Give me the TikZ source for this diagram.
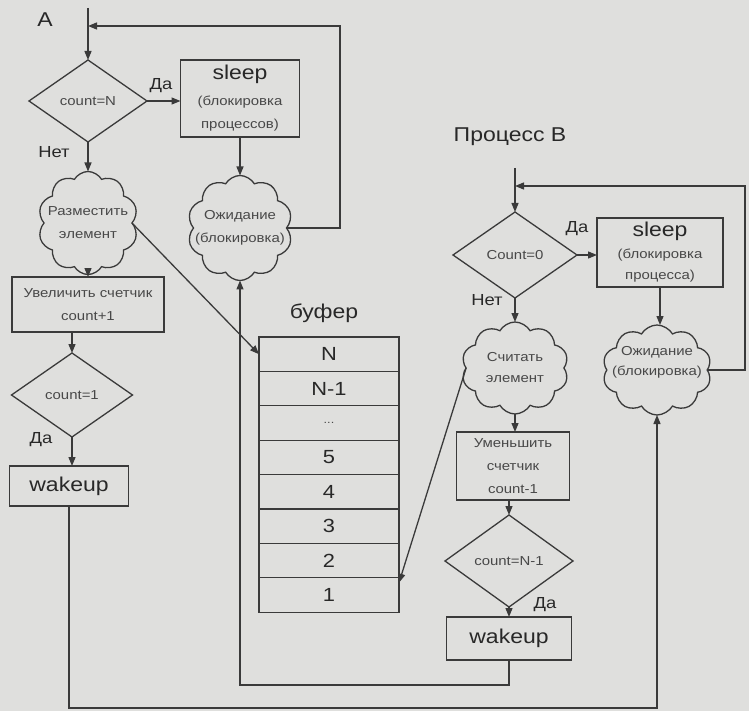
\documentclass[tikz,border=0pt]{standalone}
\usepackage{fontspec}
\setmainfont{Liberation Sans}[FakeStretch=1.15]
\usetikzlibrary{shapes.geometric,shapes.symbols,arrows.meta,calc}
\definecolor{paper}{RGB}{223,223,221}
\definecolor{ink}{RGB}{58,58,58}
\definecolor{txtdark}{RGB}{40,40,40}
\definecolor{txtlight}{RGB}{72,72,72}
\newcommand\bigsz{\fontsize{20}{22}\selectfont\color{txtdark}}
\begin{document}
\begin{tikzpicture}[x=1pt,y=-1pt,
  every node/.style={inner sep=0pt, outer sep=0pt},
  small/.style={font=\fontsize{13}{23}\selectfont, text=txtlight},
  lab/.style={font=\fontsize{16}{18}\selectfont, text=txtdark},
  big/.style={font=\fontsize{20}{22}\selectfont, text=txtdark},
  box/.style={draw=ink, line width=1.3pt, rectangle, align=center, small},
  dia/.style={draw=ink, line width=1.3pt, diamond, small},
  cloudbox/.style={draw=ink, line width=1.3pt, cloud, cloud puffs=10, cloud puff arc=120, aspect=1},
  cell/.style={draw=ink, line width=1.3pt, rectangle, minimum width=140pt, minimum height=34.4pt, font=\fontsize{19}{21}\selectfont, text=txtdark},
  arr/.style={draw=ink, line width=1.3pt, -{Triangle[length=9pt,width=7pt]}},
  wire/.style={draw=ink, line width=1.3pt},
]
\fill[paper] (0,0) rectangle (749,711);
\useasboundingbox (0,0) rectangle (749,711);

% ---------- process A ----------
\node[big] (titleA) at (45,20) {A};
\node[dia, minimum width=118pt, minimum height=82pt] (dA) at (88,101) {count=N};
\node[box, minimum width=119pt, minimum height=77pt] (sleepA) at (240,98.5)
  {{\bigsz sleep}\\[3pt](блокировка\\процессов)};
\node[cloudbox, minimum width=100pt, minimum height=103pt] (putA) at (88,223) {};
\node[small, align=center] (putAt) at (putA) {Разместить\\элемент};
\node[cloudbox, minimum width=105pt, minimum height=105pt] (waitA) at (240,228) {};
\node[small, align=center] (waitAt) at (waitA) {Ожидание\\(блокировка)};
\node[box, minimum width=152pt, minimum height=55pt] (incA) at (88,304.5)
  {Увеличить счетчик\\count+1};
\node[dia, minimum width=121pt, minimum height=84pt] (d1) at (72,395) {count=1};
\node[box, big, minimum width=119pt, minimum height=40pt] (wakeA) at (69,486) {wakeup};

\node[lab] (yesA) at (161,86) {Да};
\node[lab] (noA) at (54,152) {Нет};
\node[lab] (yesA1) at (41,440) {Да};

\coordinate (topA) at (88,8);
\coordinate (inA) at (88,26);
\coordinate (loopA) at (340,26);

\draw[arr] (topA) -- (dA.north);
\draw[arr] (dA.east) -- (dA.east -| sleepA.west);
\draw[arr] (sleepA.south) -- (waitA.north);
\draw[arr] (waitA.east) -| (loopA) -- (inA);
\draw[arr] (dA.south) -- (putA.north);
\draw[arr] (putA.south) -- (incA.north);
\draw[arr] (d1.north |- incA.south) -- (d1.north);
\draw[arr] (d1.south) -- (d1.south |- wakeA.north);

% ---------- buffer ----------
\node[big] (bufT) at (324,313) {буфер};
\node[cell] (cN)  at (329,354.2) {N};
\node[cell] (cN1) at (329,388.6) {N-1};
\node[cell, font=\fontsize{11}{12}\selectfont, text=txtlight] (cdots) at (329,423) {...};
\node[cell] (c5) at (329,457.4) {5};
\node[cell] (c4) at (329,491.8) {4};
\node[cell] (c3) at (329,526.2) {3};
\node[cell] (c2) at (329,560.6) {2};
\node[cell] (c1) at (329,595) {1};

% ---------- process B ----------
\node[big] (titleB) at (510,137) {Процесс B};
\node[dia, minimum width=124pt, minimum height=86pt] (dB) at (515,255) {Count=0};
\node[box, minimum width=126pt, minimum height=69pt] (sleepB) at (660,252.5)
  {{\bigsz sleep}\\[-1pt](блокировка\\[-2pt]процесса)};
\node[cloudbox, minimum width=107pt, minimum height=92pt] (readB) at (515,368) {};
\node[small, align=center] (readBt) at (readB) {Считать\\[-2pt]элемент};
\node[cloudbox, minimum width=109pt, minimum height=90pt] (waitB) at (657,370) {};
\node[small, align=center] (waitBt) at ($(waitB)+(0,-8)$) {Ожидание\\[-3pt](блокировка)};
\node[box, minimum width=113pt, minimum height=68pt] (decB) at (513,466)
  {Уменьшить\\счетчик\\count-1};
\node[dia, minimum width=128pt, minimum height=92pt] (dB2) at (509,561) {count=N-1};
\node[box, big, minimum width=125pt, minimum height=43pt] (wakeB) at (509,638.5) {wakeup};

\node[lab] (yesB) at (577,229) {Да};
\node[lab] (noB) at (487,300) {Нет};
\node[lab] (yesB2) at (545,605) {Да};

\coordinate (topB) at (515,168);
\coordinate (inB) at (515,186);
\coordinate (loopB) at (745,186);

\draw[arr] (topB) -- (dB.north);
\draw[arr] (dB.east) -- (dB.east -| sleepB.west);
\draw[arr] (sleepB.south) -- (sleepB.south |- waitB.north);
\draw[arr] (waitB.east) -| (loopB) -- (inB);
\draw[arr] (dB.south) -- (readB.north);
\draw[arr] (readB.south) -- (readB.south |- decB.north);
\draw[arr] (dB2.north |- decB.south) -- (dB2.north);
\draw[arr] (dB2.south) -- (wakeB.north);

% ---------- buffer access ----------
\draw[arr] (putA.east) -- (cN.west);
\draw[arr] (readB.west) -- (c1.10);

% ---------- wakeup signals ----------
\coordinate (botA) at (0,708);
\coordinate (botB) at (0,685);
\draw[arr] (wakeA.south) |- (waitB.south |- botA) -- (waitB.south);
\draw[arr] (wakeB.south) |- (waitA.south |- botB) -- (waitA.south);
\end{tikzpicture}
\end{document}
